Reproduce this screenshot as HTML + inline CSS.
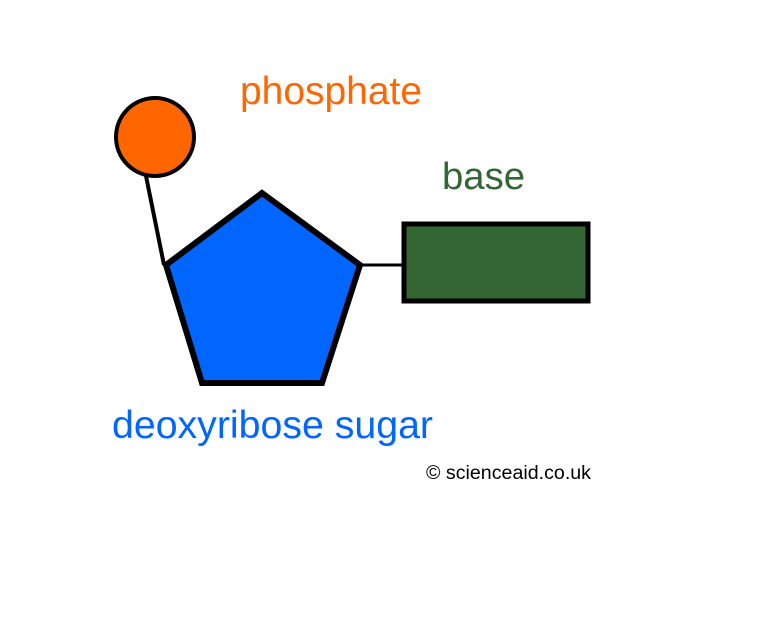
<!DOCTYPE html>
<html><head><style>
html,body{margin:0;padding:0;background:#fff;}
body{width:768px;height:614px;overflow:hidden;}
text{font-family:"Liberation Sans",Arial,sans-serif;}
</style></head><body>
<svg width="768" height="614" viewBox="0 0 768 614" xmlns="http://www.w3.org/2000/svg">
<rect width="768" height="614" fill="#fff"/>
<line x1="146" y1="176" x2="164" y2="265" stroke="#000" stroke-width="4"/>
<line x1="358" y1="265" x2="404" y2="265" stroke="#000" stroke-width="3"/>
<circle cx="155" cy="137" r="39" fill="#ff6600" stroke="#000" stroke-width="4"/>
<polygon points="262,193 360,265 322,383 202,383 166,265" fill="#0066ff" stroke="#000" stroke-width="6" stroke-linejoin="miter"/>
<rect x="404" y="224" width="184" height="77" fill="#336633" stroke="#000" stroke-width="5"/>
<text x="240" y="104" font-size="39" fill="#ff6600" textLength="182" lengthAdjust="spacingAndGlyphs">phosphate</text>
<text x="442" y="189" font-size="38" fill="#336633" textLength="83" lengthAdjust="spacingAndGlyphs">base</text>
<text x="112" y="438" font-size="39" fill="#0066ff" textLength="321" lengthAdjust="spacingAndGlyphs">deoxyribose sugar</text>
<text x="426" y="479" font-size="19" fill="#000" textLength="165" lengthAdjust="spacingAndGlyphs">© scienceaid.co.uk</text>
</svg>
</body></html>
